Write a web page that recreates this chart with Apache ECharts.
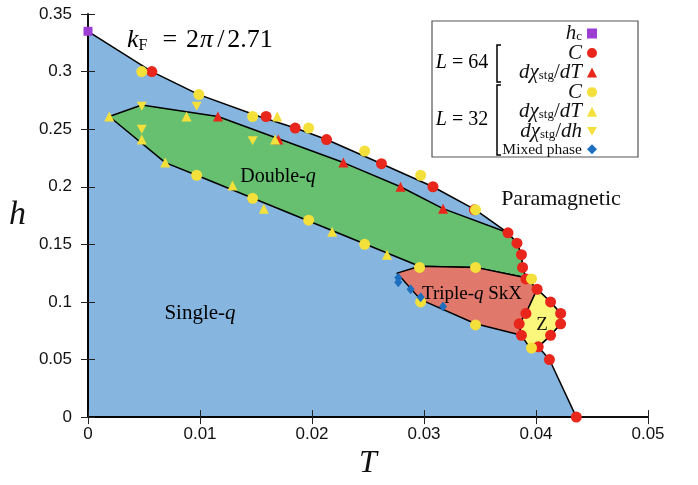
<!DOCTYPE html>
<html>
<head>
<meta charset="utf-8">
<script src="https://cdn.jsdelivr.net/npm/echarts@6/dist/echarts.min.js"></script>
<style>
html, body { margin: 0; padding: 0; background: #fff; }
#chart { width: 698px; height: 485px; }
</style>
</head>
<body>
<div id="chart"></div>
<script>
// Axis ranges and tick labels
const xTickLabels = ['0', '0.01', '0.02', '0.03', '0.04', '0.05'];
const yTickLabels = ['0', '0.05', '0.1', '0.15', '0.2', '0.25', '0.3', '0.35'];

// Phase regions: [T, h] vertices of each boundary polygon
const orderedPhase = [
  [0, 0], [0, 0.335], [0.0057, 0.300], [0.0099, 0.280], [0.0153, 0.261], [0.0185, 0.251],
  [0.0213, 0.241], [0.0262, 0.220], [0.0308, 0.200], [0.0346, 0.180], [0.0375, 0.160],
  [0.0383, 0.151], [0.0387, 0.141], [0.0388, 0.130], [0.0391, 0.121], [0.0401, 0.111],
  [0.0413, 0.100], [0.0422, 0.090], [0.0422, 0.081], [0.0413, 0.071], [0.0402, 0.061],
  [0.0412, 0.050], [0.0436, 0]
];
const doubleQPhase = [
  [0.0019, 0.261], [0.0048, 0.271], [0.0116, 0.261], [0.0228, 0.221], [0.0279, 0.200],
  [0.0317, 0.181], [0.0375, 0.160], [0.0383, 0.151], [0.0387, 0.141], [0.0388, 0.130],
  [0.0391, 0.121], [0.0346, 0.130], [0.0296, 0.131], [0.0097, 0.210], [0.0069, 0.221]
];
const skxPhase = [
  [0.0276, 0.125], [0.0296, 0.131], [0.0346, 0.130], [0.0391, 0.121], [0.0401, 0.111],
  [0.0391, 0.090], [0.0385, 0.081], [0.0387, 0.071], [0.0346, 0.081], [0.0297, 0.102]
];
const zPhase = [
  [0.0401, 0.111], [0.0413, 0.100], [0.0422, 0.090], [0.0422, 0.081], [0.0413, 0.071],
  [0.0402, 0.061], [0.0396, 0.058], [0.0387, 0.071], [0.0385, 0.081], [0.0391, 0.090]
];

// Transition points
const hcPoints = [[0, 0.335]];
const heatL64 = [
  [0.0057, 0.300], [0.0159, 0.261], [0.0185, 0.251], [0.0213, 0.241], [0.0262, 0.220],
  [0.0308, 0.200], [0.0345, 0.180], [0.0375, 0.160], [0.0383, 0.151], [0.0387, 0.141],
  [0.0388, 0.130], [0.0391, 0.120], [0.0401, 0.111], [0.0413, 0.100], [0.0422, 0.090],
  [0.0422, 0.081], [0.0413, 0.071], [0.0402, 0.061], [0.0412, 0.050], [0.0391, 0.090],
  [0.0385, 0.081], [0.0387, 0.071], [0.0436, 0.000]
];
const suscTL64 = [[0.0116, 0.261], [0.0170, 0.241], [0.0228, 0.221], [0.0279, 0.200], [0.0317, 0.181]];
const heatL32 = [
  [0.0048, 0.300], [0.0099, 0.280], [0.0147, 0.261], [0.0197, 0.251], [0.0247, 0.231],
  [0.0297, 0.210], [0.0346, 0.180], [0.0097, 0.210], [0.0147, 0.190], [0.0197, 0.171],
  [0.0247, 0.150], [0.0296, 0.130], [0.0346, 0.130], [0.0396, 0.120], [0.0297, 0.100],
  [0.0346, 0.080], [0.0396, 0.060]
];
const suscTL32 = [
  [0.0019, 0.261], [0.0088, 0.261], [0.0169, 0.261], [0.0167, 0.241], [0.0048, 0.241],
  [0.0069, 0.221], [0.0129, 0.201], [0.0157, 0.181], [0.0218, 0.161], [0.0267, 0.141]
];
const suscHL32 = [[0.0048, 0.270], [0.0097, 0.270], [0.0048, 0.250], [0.0147, 0.240]];
const mixedPoints = [[0.0277, 0.121], [0.0277, 0.117], [0.0288, 0.111], [0.0297, 0.104], [0.0317, 0.096]];

const regions = [
  { pts: orderedPhase, fill: '#86b6e0' },
  { pts: doubleQPhase, fill: '#67c070' },
  { pts: skxPhase, fill: '#e0786b' },
  { pts: zPhase, fill: '#fbf67c' }
];

const RED = '#e8261c';
const YEL = '#f3e03b';
const SERIF = 'Liberation Serif';
const SANS = 'Liberation Sans';
const downTri = 'path://M0,0L10,0L5,8.7Z';

const legendText = {
  hc: '{it|h}{sub|c}',
  C64: '{it|C}',
  dT64: '{it|dχ}{sub|stg}{rm|/}{it|dT}',
  C32: '{it|C}',
  dT32: '{it|dχ}{sub|stg}{rm|/}{it|dT}',
  dh32: '{it|dχ}{sub|stg}{rm|/}{it|dh}',
  mixed: '{sm|Mixed phase}'
};

const richMath = {
  it: { fontFamily: SERIF, fontStyle: 'italic', fontSize: 21, lineHeight: 19, verticalAlign: 'middle', color: '#111' },
  rm: { fontFamily: SERIF, fontSize: 21, lineHeight: 19, verticalAlign: 'middle', color: '#111' },
  sub: { fontFamily: SERIF, fontSize: 13, lineHeight: 19, verticalAlign: 'bottom', color: '#111' },
  sm: { fontFamily: SERIF, fontSize: 15.5, lineHeight: 19, verticalAlign: 'middle', padding: [2, 0, 0, 0], color: '#111' }
};
const richLabel = {
  it: { fontFamily: SERIF, fontStyle: 'italic', fontSize: 20, color: '#111' },
  rm: { fontFamily: SERIF, fontSize: 20, color: '#111' }
};
const richRegion = {
  rm: { fontFamily: SERIF, fontSize: 20, color: '#111' },
  it: { fontFamily: SERIF, fontStyle: 'italic', fontSize: 20, color: '#111' }
};

function scatter(name, data, symbol, size, color) {
  return {
    name, type: 'scatter', data, symbol, symbolSize: size, clip: false, z: 3,
    itemStyle: { color, opacity: 1 }, emphasis: { disabled: true }
  };
}

const axisCommon = {
  type: 'value', min: 0, z: 2,
  axisLine: { show: true, lineStyle: { color: '#000', width: 1.5 } },
  axisTick: { show: true, inside: true, length: 7, lineStyle: { color: '#222', width: 1 } },
  splitLine: { show: false }
};

const option = {
  animation: false,
  backgroundColor: '#fff',
  grid: { left: 88, right: 50, top: 14, bottom: 63 },
  xAxis: [
    Object.assign({}, axisCommon, {
      max: 0.05, interval: 0.01, position: 'bottom',
      name: 'T', nameLocation: 'middle', nameGap: 28,
      nameTextStyle: { fontFamily: SERIF, fontStyle: 'italic', fontSize: 32, color: '#111' },
      axisLabel: {
        margin: 9, fontFamily: SANS, fontSize: 17, color: '#111',
        formatter: (v) => xTickLabels[Math.round(v * 100)]
      }
    }),
    Object.assign({}, axisCommon, { max: 0.05, interval: 0.01, position: 'top', axisLabel: { show: false } })
  ],
  yAxis: [
    Object.assign({}, axisCommon, {
      max: 0.35, interval: 0.05, position: 'left',
      name: 'h', nameLocation: 'middle', nameGap: 62, nameRotate: 0,
      nameTextStyle: { fontFamily: SERIF, fontStyle: 'italic', fontSize: 34, color: '#111', padding: [0, 0, 22, 0] },
      axisLabel: {
        margin: 16, fontFamily: SANS, fontSize: 17, color: '#111',
        formatter: (v) => yTickLabels[Math.round(v * 20)]
      }
    }),
    Object.assign({}, axisCommon, { max: 0.35, interval: 0.05, position: 'right', axisLabel: { show: false } })
  ],
  legend: {
    orient: 'vertical', align: 'right', right: 101, top: 23, padding: 0, itemGap: -1.45,
    itemWidth: 10, itemHeight: 10, selectedMode: false, z: 5,
    data: ['hc', 'C64', 'dT64', 'C32', 'dT32', 'dh32', 'mixed'],
    formatter: (n) => legendText[n],
    textStyle: { rich: richMath }
  },
  series: [
    {
      type: 'custom', coordinateSystem: 'cartesian2d', clip: false, z: 1, silent: true,
      data: regions.map((r) => r.pts[0]),
      renderItem: (params, api) => {
        const reg = regions[params.dataIndex];
        return {
          type: 'polygon',
          shape: { points: reg.pts.map((p) => api.coord(p)) },
          style: { fill: reg.fill, stroke: '#000', lineWidth: 1.5, lineJoin: 'round' }
        };
      }
    },
    scatter('hc', hcPoints, 'rect', 9, '#9b3fd4'),
    scatter('C64', heatL64, 'circle', 11, RED),
    scatter('dT64', suscTL64, 'triangle', 10, RED),
    scatter('C32', heatL32, 'circle', 11, YEL),
    scatter('dT32', suscTL32, 'triangle', 10, YEL),
    scatter('dh32', suscHL32, downTri, [10, 9], YEL),
    scatter('mixed', mixedPoints, 'diamond', [8, 10], '#1d6fc0')
  ],
  graphic: [
    { type: 'rect', z: 3, shape: { x: 432, y: 21, width: 206, height: 136 },
      style: { fill: '#fff', stroke: '#555', lineWidth: 1.2 } },
    { type: 'polyline', z: 6, shape: { points: [[501, 45], [497, 45], [497, 82], [501, 82]] },
      style: { stroke: '#000', lineWidth: 1.5, fill: null } },
    { type: 'polyline', z: 6, shape: { points: [[501, 85], [497, 85], [497, 155], [501, 155]] },
      style: { stroke: '#000', lineWidth: 1.5, fill: null } },
    { type: 'text', z: 6, x: 462, y: 63,
      style: { text: '{it|L}{rm| = 64}', rich: richLabel, align: 'center', verticalAlign: 'middle' } },
    { type: 'text', z: 6, x: 462, y: 120,
      style: { text: '{it|L}{rm| = 32}', rich: richLabel, align: 'center', verticalAlign: 'middle' } },
    { type: 'text', z: 6, x: 127, y: 40,
      style: {
        text: '{it|k}{sub|F}{eq|=}{rm|2}{pi|π}{sl|/}{rm|2.71}', align: 'left', verticalAlign: 'middle',
        rich: {
          it: { fontFamily: SERIF, fontStyle: 'italic', fontSize: 26, lineHeight: 28, verticalAlign: 'middle', color: '#111' },
          rm: { fontFamily: SERIF, fontSize: 26, lineHeight: 28, verticalAlign: 'middle', color: '#111' },
          eq: { fontFamily: SERIF, fontSize: 26, lineHeight: 28, verticalAlign: 'middle', color: '#111', padding: [0, 9, 0, 15] },
          pi: { fontFamily: SERIF, fontStyle: 'italic', fontSize: 26, lineHeight: 28, verticalAlign: 'middle', color: '#111', padding: [0, 2, 0, 1] },
          sl: { fontFamily: SERIF, fontSize: 26, lineHeight: 28, verticalAlign: 'middle', color: '#111', padding: [0, 3, 0, 2] },
          sub: { fontFamily: SERIF, fontSize: 16, lineHeight: 28, verticalAlign: 'bottom', color: '#111' }
        }
      } },
    { type: 'text', z: 6, x: 278, y: 177,
      style: { text: '{rm|Double-}{it|q}', align: 'center', verticalAlign: 'middle', rich: richRegion } },
    { type: 'text', z: 6, x: 561, y: 199,
      style: { text: 'Paramagnetic', fontFamily: SERIF, fontSize: 22, fill: '#111', align: 'center', verticalAlign: 'middle' } },
    { type: 'text', z: 6, x: 200, y: 313,
      style: { text: '{rm|Single-}{it|q}', align: 'center', verticalAlign: 'middle',
        rich: {
          rm: { fontFamily: SERIF, fontSize: 21, color: '#111' },
          it: { fontFamily: SERIF, fontStyle: 'italic', fontSize: 21, color: '#111' }
        } } },
    { type: 'text', z: 6, x: 472, y: 294,
      style: { text: '{rm|Triple-}{it|q}{rm| SkX}', align: 'center', verticalAlign: 'middle',
        rich: {
          rm: { fontFamily: SERIF, fontSize: 19, color: '#111' },
          it: { fontFamily: SERIF, fontStyle: 'italic', fontSize: 19, color: '#111' }
        } } },
    { type: 'text', z: 6, x: 542, y: 325,
      style: { text: 'Z', fontFamily: SERIF, fontSize: 19, fill: '#111', align: 'center', verticalAlign: 'middle' } }
  ]
};

const chart = echarts.init(document.getElementById('chart'));
chart.setOption(option);
</script>
</body>
</html>
